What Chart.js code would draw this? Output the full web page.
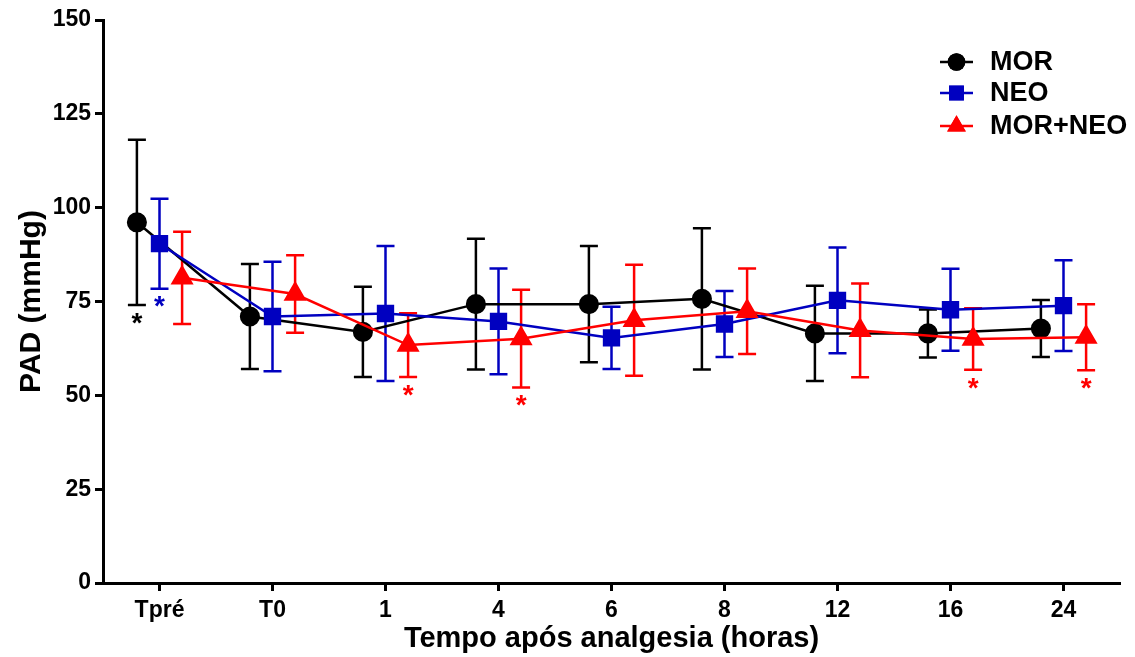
<!DOCTYPE html>
<html>
<head>
<meta charset="utf-8">
<script src="https://cdn.jsdelivr.net/npm/chart.js@4/dist/chart.umd.min.js"></script>
<style>
  body { margin: 0; background: #fff; }
  #wrap { width: 1135px; height: 657px; }
</style>
</head>
<body>
<div id="wrap"><canvas id="pad_chart"></canvas></div>
<script>
// time points
var categories = ['Tpré', 'T0', '1', '4', '6', '8', '12', '16', '24'];
var yTicks = [0, 25, 50, 75, 100, 125, 150];

// mean and SD per group (mmHg)
var morMean = [96.1, 71.0, 66.9, 74.3, 74.3, 75.7, 66.5, 66.5, 67.8];
var morSd   = [22.0, 14.0, 12.0, 17.4, 15.5, 18.8, 12.7, 6.4, 7.6];
var neoMean = [90.4, 71.0, 71.8, 69.7, 65.3, 69.0, 75.3, 72.8, 73.9];
var neoSd   = [12.0, 14.6, 18.0, 14.1, 8.3, 8.8, 14.1, 10.9, 12.1];
var mixMean = [81.3, 77.0, 63.4, 65.1, 70.0, 72.4, 67.3, 65.0, 65.5];
var mixSd   = [12.3, 10.3, 8.5, 13.0, 14.8, 11.4, 12.5, 8.2, 8.8];

// significance marks (1 = asterisk)
var morSig = [1, 0, 0, 0, 0, 0, 0, 0, 0];
var neoSig = [1, 0, 0, 0, 0, 0, 0, 0, 0];
var mixSig = [0, 0, 1, 1, 0, 0, 0, 1, 1];

function pts(means, shift) {
  return means.map(function(v, i) { return {x: i + shift, y: v}; });
}

var errorBars = {
  id: 'errorBars',
  beforeDatasetsDraw: function(chart) {
    var ctx = chart.ctx, xs = chart.scales.x, ys = chart.scales.y;
    chart.data.datasets.forEach(function(ds) {
      ctx.save();
      ctx.strokeStyle = ds.borderColor;
      ctx.lineWidth = 2.5;
      ds.data.forEach(function(p, j) {
        var px = xs.getPixelForValue(p.x);
        var hi = ys.getPixelForValue(p.y + ds.sd[j]);
        var lo = ys.getPixelForValue(p.y - ds.sd[j]);
        ctx.beginPath();
        ctx.moveTo(px, hi); ctx.lineTo(px, lo);
        ctx.moveTo(px - 9, hi); ctx.lineTo(px + 9, hi);
        ctx.moveTo(px - 9, lo); ctx.lineTo(px + 9, lo);
        ctx.stroke();
      });
      ctx.restore();
    });
  },
  afterDatasetsDraw: function(chart) {
    var ctx = chart.ctx, xs = chart.scales.x, ys = chart.scales.y;
    ctx.save();
    ctx.font = 'bold 28px "Liberation Sans", Arial, sans-serif';
    ctx.textAlign = 'center';
    ctx.textBaseline = 'middle';
    chart.data.datasets.forEach(function(ds) {
      ctx.fillStyle = ds.borderColor;
      ds.data.forEach(function(p, j) {
        if (!ds.sig[j]) return;
        var px = xs.getPixelForValue(p.x);
        var lo = ys.getPixelForValue(p.y - ds.sd[j]);
        ctx.fillText('*', px, lo + 19);
      });
    });
    ctx.restore();
  }
};

var lineLegend = {
  id: 'lineLegend',
  afterDraw: function(chart) {
    var ctx = chart.ctx;
    var rows = [62, 93, 126];
    ctx.save();
    ctx.font = 'bold 27px "Liberation Sans", Arial, sans-serif';
    ctx.textBaseline = 'middle';
    ctx.textAlign = 'left';
    chart.data.datasets.forEach(function(ds, i) {
      var y = rows[i];
      ctx.strokeStyle = ds.borderColor;
      ctx.lineWidth = 2.5;
      ctx.beginPath(); ctx.moveTo(940, y); ctx.lineTo(973, y); ctx.stroke();
      ctx.fillStyle = ds.borderColor;
      Chart.helpers.drawPoint(ctx, {pointStyle: ds.pointStyle, radius: ds.pointRadius, borderWidth: 0}, 956.5, y);
      ctx.fill();
      ctx.fillStyle = '#000';
      ctx.fillText(ds.label, 990, y + 1);
    });
    ctx.restore();
  }
};

var tickFont = {family: '"Liberation Sans", Arial, sans-serif', size: 23, weight: 'bold'};

var pad_chart = new Chart(document.getElementById('pad_chart'), {
  type: 'line',
  data: {
    datasets: [{
      label: 'MOR',
      data: pts(morMean, -0.2),
      sd: morSd, sig: morSig,
      borderColor: '#000000', backgroundColor: '#000000',
      pointStyle: 'circle', pointRadius: 8.8,
      borderWidth: 2.5, order: 3
    }, {
      label: 'NEO',
      data: pts(neoMean, 0),
      sd: neoSd, sig: neoSig,
      borderColor: '#0000c0', backgroundColor: '#0000c0',
      pointStyle: 'rect', pointRadius: 10.5,
      borderWidth: 2.5, order: 2
    }, {
      label: 'MOR+NEO',
      data: pts(mixMean, 0.2),
      sd: mixSd, sig: mixSig,
      borderColor: '#ff0000', backgroundColor: '#ff0000',
      pointStyle: 'triangle', pointRadius: 10.8,
      borderWidth: 2.5, order: 1
    }]
  },
  options: {
    responsive: true,
    maintainAspectRatio: false,
    animation: false,
    layout: { padding: {left: 0, top: 20, right: 15, bottom: 0} },
    elements: {
      line: { tension: 0 },
      point: { borderWidth: 0, hoverRadius: 9 }
    },
    plugins: {
      legend: { display: false },
      tooltip: { enabled: false }
    },
    scales: {
      x: {
        type: 'linear',
        min: -0.5, max: 8.5,
        afterBuildTicks: function(scale) {
          scale.ticks = categories.map(function(c, i) { return {value: i}; });
        },
        afterFit: function(scale) { scale.height = 74; },
        ticks: {
          color: '#000', font: tickFont, padding: 6, maxRotation: 0,
          callback: function(v) { return categories[v]; }
        },
        grid: { drawOnChartArea: false, drawTicks: true, tickLength: 8, tickWidth: 3, tickColor: '#000' },
        border: { display: true, width: 3, color: '#000' },
        title: {
          display: true, text: 'Tempo após analgesia (horas)', color: '#000',
          font: {family: '"Liberation Sans", Arial, sans-serif', size: 29, weight: 'bold'},
          padding: {top: 0, bottom: 1}
        }
      },
      y: {
        min: 0, max: 150,
        afterBuildTicks: function(scale) {
          scale.ticks = yTicks.map(function(v) { return {value: v}; });
        },
        afterFit: function(scale) { scale.width = 103; },
        ticks: { color: '#000', font: tickFont, padding: 4 },
        grid: { drawOnChartArea: false, drawTicks: true, tickLength: 8, tickWidth: 3, tickColor: '#000' },
        border: { display: true, width: 3, color: '#000' },
        title: {
          display: true, text: 'PAD (mmHg)', color: '#000',
          font: {family: '"Liberation Sans", Arial, sans-serif', size: 30, weight: 'bold'},
          padding: {top: 14, bottom: 0}
        }
      }
    }
  },
  plugins: [errorBars, lineLegend]
});
</script>
</body>
</html>
